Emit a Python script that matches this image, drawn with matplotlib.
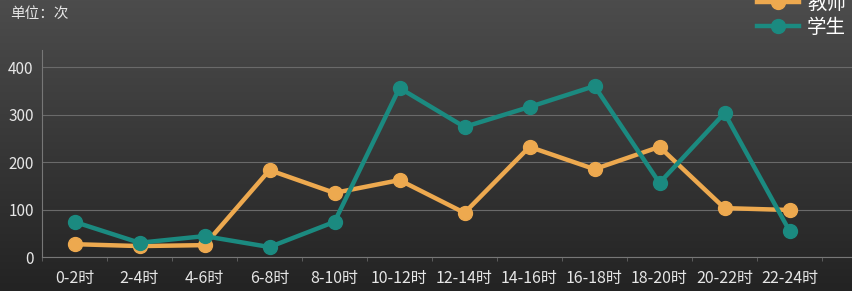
import matplotlib.pyplot as plt
import numpy as np

plt.rcParams["font.family"] = ["Noto Sans CJK SC", "DejaVu Sans"]

# data
periods = ["0-2时", "2-4时", "4-6时", "6-8时", "8-10时", "10-12时",
           "12-14时", "14-16时", "16-18时", "18-20时", "20-22时", "22-24时"]
teacher = [27, 23, 25, 183, 135, 162, 93, 232, 185, 232, 103, 99]
student = [74, 30, 44, 21, 74, 356, 274, 316, 360, 156, 303, 55]
yticks = [0, 100, 200, 300, 400]

ORANGE = "#EDA94F"
TEAL = "#1B8A80"
TXT = "#E6E6E6"

fig = plt.figure(figsize=(8.52, 2.91), dpi=100)

# dark vertical gradient background
bg = fig.add_axes([0, 0, 1, 1], zorder=-1)
grad = np.linspace(0, 1, 256).reshape(-1, 1)
bg.imshow(grad, aspect="auto", cmap=plt.matplotlib.colors.LinearSegmentedColormap.from_list(
    "bg", ["#4c4c4c", "#232323"]), extent=[0, 1, 0, 1], origin="upper")
bg.set_axis_off()

W, H = 852, 291
ax = fig.add_axes([42 / W, (H - 257) / H, (852 - 42) / W, (257 - 50) / H])
ax.patch.set_alpha(0)

x = np.arange(len(periods))
ax.plot(x, teacher, color=ORANGE, lw=3.2, marker="o", ms=10, label="教师", zorder=3)
ax.plot(x, student, color=TEAL, lw=3.2, marker="o", ms=10, label="学生", zorder=3)

ax.set_xlim(-0.5, -0.5 + (852 - 42) / 65)
ax.set_ylim(0, 436)
ax.set_yticks(yticks)
ax.set_xticks(x)
ax.set_xticklabels(periods)
ax.set_xticks(np.arange(len(periods) + 1) - 0.5, minor=True)
ax.tick_params(axis="x", which="major", length=0, pad=9, labelsize=11.5, colors=TXT)
ax.tick_params(axis="x", which="minor", length=3, color="#666666")
ax.tick_params(axis="y", length=0, pad=6, labelsize=11, colors=TXT)
ax.grid(axis="y", color="#6a6a6a", lw=0.8)
ax.set_axisbelow(True)
for side in ["top", "right"]:
    ax.spines[side].set_visible(False)
ax.spines["left"].set_color("#777777")
ax.spines["bottom"].set_color("#777777")

fig.text(10 / W, 1 - 14 / H, "单位：次", color=TXT, fontsize=10.5, va="center", ha="left")

leg = ax.legend(loc="upper right", bbox_to_anchor=(1.0 + 2 / W, 1.0 + 15 / H),
                bbox_transform=fig.transFigure, frameon=False, fontsize=14,
                labelcolor="white", handlelength=2.2, handletextpad=0.4,
                labelspacing=0.15, borderaxespad=0.0)

fig.savefig("out.png", dpi=100)
